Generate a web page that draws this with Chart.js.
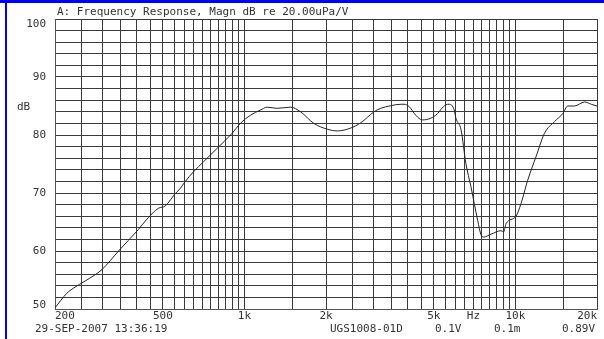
<!DOCTYPE html>
<html><head><meta charset="utf-8">
<script src="https://cdn.jsdelivr.net/npm/chart.js@4/dist/chart.umd.min.js"></script>
<style>
html,body{margin:0;padding:0;background:#fff;width:604px;height:339px;overflow:hidden}
#wrap{position:relative;width:604px;height:339px}
#c{position:absolute;left:0;top:0}
.bt{position:absolute;left:0;top:0;width:604px;height:3px;background:#0000ff}
.bl{position:absolute;left:5px;top:0;width:2px;height:339px;background:#0000ff}
</style></head>
<body><div id="wrap"><canvas id="c" width="604" height="339"></canvas><div class="bt"></div><div class="bl"></div></div>
<script>
const freqHz = [200,221,234,260,298,343,406,437,489,503,556,580,603,650,707,793,901,966,1052,1146,1213,1321,1479,1611,1804,2023,2203,2467,2686,3008,3183,3466,3780,3883,4053,4290,4540,4874,5163,5307,5537,5700,5946,6030,6300,6564,6852,7255,7464,7636,8126,8846,9050,9233,10050,10490,11100,11920,12800,13930,14960,15610,16520,17990,19050,20000];
const magnDb = [50.2,52.7,53.6,54.9,56.8,60.0,63.7,65.5,67.5,67.6,69.9,70.8,71.9,73.7,75.4,77.7,80.3,82.0,83.4,84.3,84.8,84.6,84.8,84.0,82.0,81.0,80.7,81.2,82.1,84.0,84.6,85.05,85.3,85.3,84.9,83.4,82.6,82.9,83.7,84.4,85.2,85.3,84.3,82.9,80.9,75.1,71.1,65.3,62.8,62.4,62.9,63.5,63.3,64.7,66.0,68.2,72.2,76.3,80.3,82.3,83.7,85.0,85.0,85.7,85.3,85.0];
const xGridHz = [200,250,300,350,400,450,500,550,600,650,700,750,800,850,900,950,1000,1500,2000,2500,3000,3500,4000,4500,5000,5500,6000,6500,7000,7500,8000,8500,9000,9500,10000,15000,20000];
const xTickVals = [200,500,1000,2000,5000,10000,20000];
const xTickLabels = ["200","500","1k","2k","5k","10k","20k"];
const yTickVals = [50,60,70,80,90,100];
const yTickLabels = ["50","60","70","80","90","100"];
const titleText = "A: Frequency Response, Magn dB re 20.00uPa/V";
const unitY = "dB";
const unitX = "Hz";
const unitXPos = 7000;
const footerTexts = ["29-SEP-2007 13:36:19","UGS1008-01D","0.1V","0.1m","0.89V"];

const FONT = '11px "DejaVu Sans Mono"';
const TXT = '#333';

const labelsPlugin = {
  id:'labels',
  afterDraw(chart){
    const ctx = chart.ctx, xs = chart.scales.x, ys = chart.scales.y, a = chart.chartArea;
    ctx.save();
    ctx.font = FONT; ctx.fillStyle = TXT; ctx.textBaseline = 'middle';
    ctx.textAlign = 'left';
    ctx.fillText(titleText, a.left+2, 12);
    ctx.textAlign = 'right';
    yTickVals.forEach((v,i)=>{
      let py = ys.getPixelForValue(v);
      if (i===0) py -= 4; if (i===yTickVals.length-1) py += 5;
      ctx.fillText(yTickLabels[i], a.left-9, py);
    });
    ctx.textAlign = 'left';
    ctx.fillText(unitY, 17, ys.getPixelForValue(84.8));
    xTickVals.forEach((v,i)=>{
      const px = xs.getPixelForValue(v);
      ctx.textAlign = i===0 ? 'left' : (i===xTickVals.length-1 ? 'right' : 'center');
      ctx.fillText(xTickLabels[i], px, a.bottom+7);
    });
    ctx.textAlign = 'center';
    ctx.fillText(unitX, xs.getPixelForValue(unitXPos), a.bottom+7);
    const fx = [35,330,435,494,562];
    ctx.textAlign = 'left';
    footerTexts.forEach((t,i)=>ctx.fillText(t, fx[i], 329));
    ctx.restore();
  }
};

new Chart(document.getElementById('c'), {
  type:'line',
  data:{datasets:[{
    data: freqHz.map((f,i)=>({x:f,y:magnDb[i]})),
    borderColor:'#222', borderWidth:1, pointRadius:0, cubicInterpolationMode:'monotone', fill:false
  }]},
  options:{
    responsive:false, animation:false,
    layout:{padding:{left:55,top:19,right:7,bottom:30}},
    plugins:{legend:{display:false},tooltip:{enabled:false}},
    scales:{
      x:{type:'logarithmic',min:200,max:20000,
        afterBuildTicks:(s)=>{s.ticks = xGridHz.map(v=>({value:v}));},
        ticks:{display:false},
        grid:{color:'#3a3a3a',lineWidth:1,drawTicks:false},
        border:{display:true,color:'#555',width:1}},
      y:{min:50,max:100,
        ticks:{display:false,stepSize:2},
        grid:{color:'#3a3a3a',lineWidth:1,drawTicks:false},
        border:{display:true,color:'#555',width:1}}
    }
  },
  plugins:[labelsPlugin]
});
</script></body></html>
